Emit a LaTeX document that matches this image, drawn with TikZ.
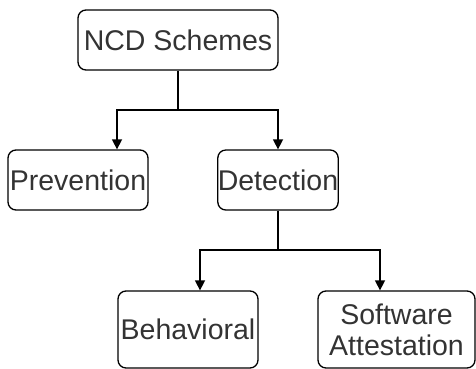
\documentclass[tikz,border=0pt]{standalone}
\usepackage{fontspec}
\setmainfont{Liberation Sans}
\usetikzlibrary{arrows.meta}
\definecolor{txt}{HTML}{333333}
\tikzset{
  box/.style={draw=black, line width=1.3pt, rounded corners=8pt, inner sep=0pt,
    font=\fontsize{28.5}{31}\selectfont, text=txt, align=center},
  conn/.style={draw=black, line width=1.5pt, -{Triangle[width=10pt,length=10pt]}}
}
\begin{document}
\begin{tikzpicture}[x=1pt,y=-1pt]
\useasboundingbox (0,0) rectangle (476,369);
\node[box, minimum width=200pt, minimum height=60pt] (ncd) at (178,40) {NCD Schemes};
\node[box, minimum width=140pt, minimum height=60pt] (prev) at (78,180) {Prevention};
\node[box, minimum width=120pt, minimum height=60pt] (det) at (278,180) {Detection};
\node[box, minimum width=140pt, minimum height=77pt] (beh) at (188,329.5) {Behavioral};
\node[box, minimum width=157pt, minimum height=77pt] (sw) at (396.5,329.5) {Software\\Attestation};
\coordinate (j1) at (178,110);
\coordinate (j2) at (278,250);
\draw[line width=1.5pt] (ncd.south) -- (j1);
\draw[conn] (j1) -| (prev.north -| 117,0);
\draw[conn] (j1) -| (det.north);
\draw[line width=1.5pt] (det.south) -- (j2);
\draw[conn] (j2) -| (beh.north -| 200,0);
\draw[conn] (j2) -| (sw.north -| 380,0);
\end{tikzpicture}
\end{document}
